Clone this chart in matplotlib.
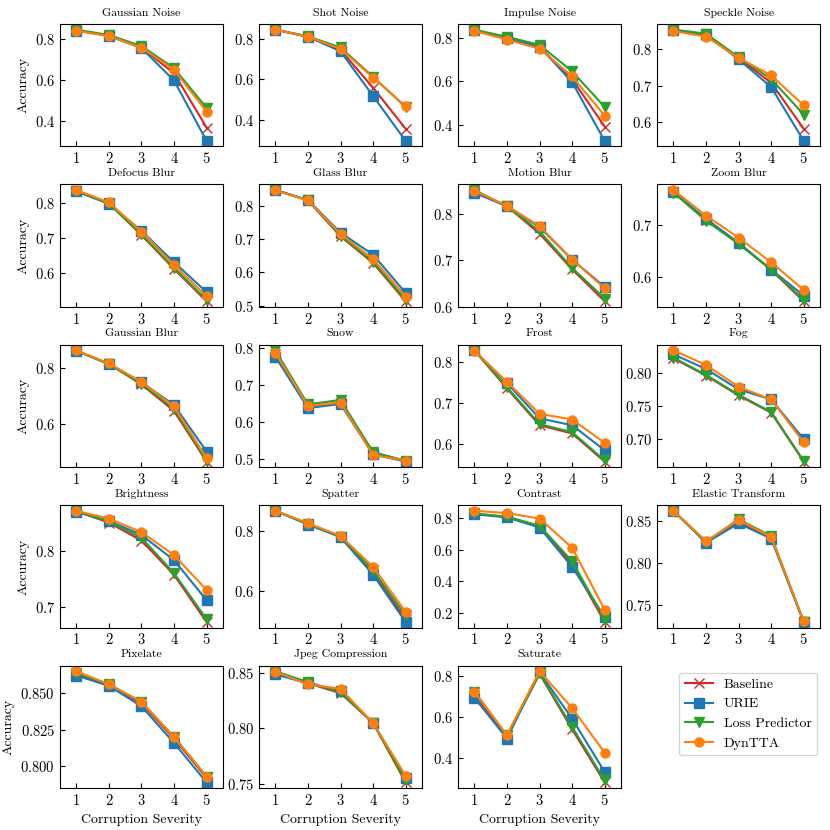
import matplotlib
matplotlib.use('Agg')
import matplotlib.pyplot as plt

plt.rcParams['font.family'] = 'serif'
plt.rcParams['font.serif'] = ['cmr10']
plt.rcParams['mathtext.fontset'] = 'cm'
plt.rcParams['axes.formatter.use_mathtext'] = True
plt.rcParams['xtick.direction'] = 'in'
plt.rcParams['ytick.direction'] = 'in'

severity = [1, 2, 3, 4, 5]
corruptions = ['Gaussian Noise', 'Shot Noise', 'Impulse Noise', 'Speckle Noise',
               'Defocus Blur', 'Glass Blur', 'Motion Blur', 'Zoom Blur',
               'Gaussian Blur', 'Snow', 'Frost', 'Fog',
               'Brightness', 'Spatter', 'Contrast', 'Elastic Transform',
               'Pixelate', 'Jpeg Compression', 'Saturate']

# accuracy per corruption (rows) and severity (columns)
baseline = [
    [0.845, 0.818, 0.760, 0.635, 0.370],
    [0.845, 0.810, 0.745, 0.558, 0.355],
    [0.835, 0.798, 0.758, 0.610, 0.392],
    [0.851, 0.838, 0.775, 0.708, 0.582],
    [0.833, 0.798, 0.708, 0.612, 0.520],
    [0.847, 0.816, 0.708, 0.628, 0.513],
    [0.848, 0.817, 0.758, 0.681, 0.612],
    [0.765, 0.711, 0.665, 0.613, 0.552],
    [0.862, 0.815, 0.742, 0.648, 0.468],
    [0.782, 0.643, 0.651, 0.517, 0.494],
    [0.828, 0.735, 0.645, 0.625, 0.556],
    [0.822, 0.796, 0.766, 0.740, 0.666],
    [0.870, 0.850, 0.818, 0.757, 0.673],
    [0.866, 0.822, 0.779, 0.658, 0.505],
    [0.828, 0.808, 0.748, 0.510, 0.143],
    [0.862, 0.825, 0.849, 0.830, 0.730],
    [0.863, 0.855, 0.843, 0.819, 0.792],
    [0.850, 0.841, 0.832, 0.805, 0.751],
    [0.710, 0.505, 0.812, 0.540, 0.280],
]
urie = [
    [0.843, 0.818, 0.758, 0.600, 0.305],
    [0.845, 0.810, 0.738, 0.517, 0.295],
    [0.835, 0.800, 0.760, 0.596, 0.326],
    [0.852, 0.840, 0.772, 0.696, 0.549],
    [0.832, 0.797, 0.720, 0.631, 0.546],
    [0.847, 0.817, 0.719, 0.653, 0.538],
    [0.846, 0.817, 0.772, 0.702, 0.643],
    [0.765, 0.713, 0.666, 0.614, 0.563],
    [0.861, 0.815, 0.750, 0.669, 0.504],
    [0.776, 0.637, 0.648, 0.512, 0.492],
    [0.828, 0.748, 0.662, 0.645, 0.584],
    [0.828, 0.806, 0.775, 0.760, 0.700],
    [0.869, 0.853, 0.828, 0.783, 0.712],
    [0.866, 0.820, 0.778, 0.653, 0.495],
    [0.825, 0.805, 0.741, 0.492, 0.175],
    [0.862, 0.824, 0.847, 0.829, 0.730],
    [0.862, 0.855, 0.841, 0.816, 0.789],
    [0.849, 0.841, 0.834, 0.805, 0.755],
    [0.695, 0.495, 0.820, 0.592, 0.331],
]
loss_predictor = [
    [0.848, 0.822, 0.768, 0.660, 0.466],
    [0.845, 0.812, 0.757, 0.612, 0.462],
    [0.838, 0.805, 0.768, 0.646, 0.482],
    [0.853, 0.842, 0.778, 0.718, 0.621],
    [0.833, 0.798, 0.710, 0.615, 0.524],
    [0.847, 0.816, 0.710, 0.632, 0.518],
    [0.852, 0.817, 0.763, 0.684, 0.618],
    [0.764, 0.709, 0.664, 0.614, 0.555],
    [0.862, 0.815, 0.744, 0.655, 0.472],
    [0.793, 0.647, 0.659, 0.518, 0.494],
    [0.828, 0.738, 0.648, 0.628, 0.559],
    [0.823, 0.797, 0.767, 0.741, 0.667],
    [0.870, 0.852, 0.823, 0.760, 0.678],
    [0.866, 0.822, 0.780, 0.668, 0.517],
    [0.830, 0.810, 0.752, 0.528, 0.158],
    [0.862, 0.825, 0.852, 0.832, 0.730],
    [0.864, 0.856, 0.844, 0.820, 0.793],
    [0.852, 0.842, 0.833, 0.805, 0.753],
    [0.725, 0.510, 0.815, 0.551, 0.290],
]
dyntta = [
    [0.843, 0.816, 0.760, 0.652, 0.448],
    [0.845, 0.810, 0.750, 0.608, 0.466],
    [0.832, 0.792, 0.750, 0.623, 0.442],
    [0.849, 0.834, 0.776, 0.728, 0.646],
    [0.836, 0.801, 0.718, 0.623, 0.534],
    [0.846, 0.816, 0.715, 0.640, 0.527],
    [0.850, 0.818, 0.774, 0.702, 0.640],
    [0.769, 0.719, 0.676, 0.628, 0.574],
    [0.863, 0.817, 0.751, 0.664, 0.480],
    [0.786, 0.643, 0.652, 0.510, 0.495],
    [0.827, 0.751, 0.673, 0.659, 0.602],
    [0.834, 0.812, 0.779, 0.760, 0.695],
    [0.871, 0.857, 0.833, 0.792, 0.730],
    [0.866, 0.825, 0.782, 0.679, 0.529],
    [0.847, 0.832, 0.798, 0.613, 0.221],
    [0.862, 0.826, 0.851, 0.831, 0.731],
    [0.865, 0.856, 0.844, 0.820, 0.793],
    [0.8515, 0.840, 0.836, 0.805, 0.757],
    [0.723, 0.512, 0.825, 0.644, 0.426],
]

methods = [('Baseline', baseline, 'tab:red', 'x'),
           ('URIE', urie, 'tab:blue', 's'),
           ('Loss Predictor', loss_predictor, 'tab:green', 'v'),
           ('DynTTA', dyntta, 'tab:orange', 'o')]

fig, axes = plt.subplots(5, 4, figsize=(8.3, 8.3), dpi=100)
fig.subplots_adjust(left=0.0723, right=0.988, top=0.971, bottom=0.0506,
                    wspace=0.222, hspace=0.31)
axes = axes.flatten()

for i, name in enumerate(corruptions):
    ax = axes[i]
    for label, data, color, marker in methods:
        ax.plot(severity, data[i], color=color, marker=marker, markersize=6.5,
                linewidth=1.5, label=label)
    ax.set_title(name, fontsize=8.5)
    ax.set_xticks(severity)
    ax.set_xlim(0.5, 5.5)
    ax.tick_params(labelsize=10.5)
    if i % 4 == 0:
        ax.set_ylabel('Accuracy', fontsize=10)
    if i >= 16:
        ax.set_xlabel('Corruption Severity', fontsize=10)

handles, labels = axes[0].get_legend_handles_labels()
axes[19].axis('off')
axes[19].legend(handles, labels, loc='upper center', fontsize=10,
                bbox_to_anchor=(0.56, 1.0))

plt.savefig('out.png', dpi=100)
